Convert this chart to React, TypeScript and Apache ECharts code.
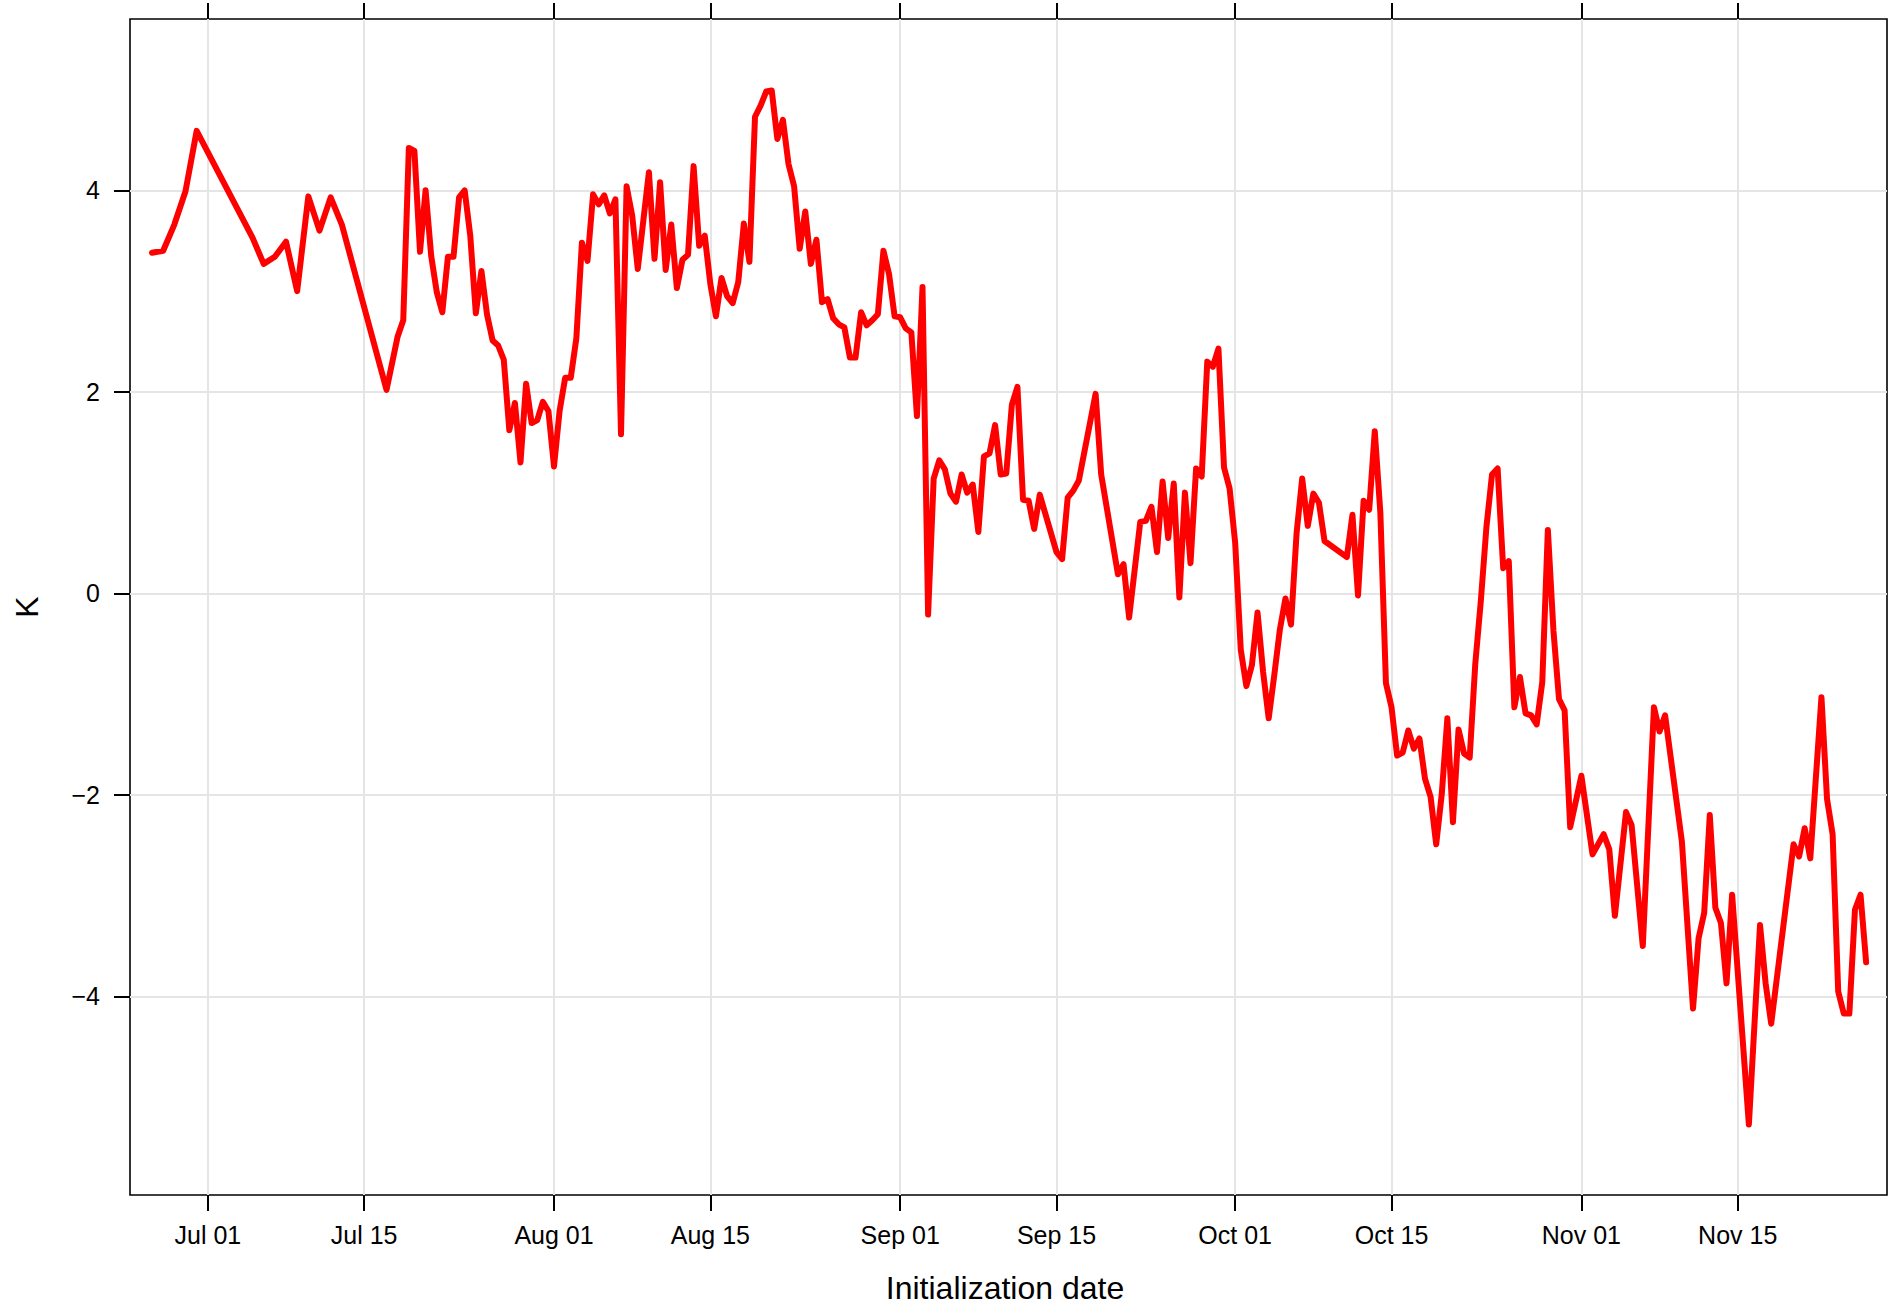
import React, { useEffect, useRef } from "react";
import * as echarts from "echarts";

// ---- data ----
const initDates: string[] = [
  "2015-06-26", "2015-06-27", "2015-06-28", "2015-06-29", "2015-06-30",
  "2015-07-05", "2015-07-06", "2015-07-07", "2015-07-08", "2015-07-09", "2015-07-10",
  "2015-07-11", "2015-07-12", "2015-07-13", "2015-07-17",
  "2015-07-18", "2015-07-18T12", "2015-07-19", "2015-07-19T12", "2015-07-20", "2015-07-20T12",
  "2015-07-21", "2015-07-21T12", "2015-07-22", "2015-07-22T12", "2015-07-23", "2015-07-23T12",
  "2015-07-24", "2015-07-24T12", "2015-07-25", "2015-07-25T12", "2015-07-26", "2015-07-26T12",
  "2015-07-27", "2015-07-27T12", "2015-07-28", "2015-07-28T12", "2015-07-29", "2015-07-29T12",
  "2015-07-30", "2015-07-30T12", "2015-07-31", "2015-07-31T12",
  "2015-08-01", "2015-08-01T12", "2015-08-02", "2015-08-02T12", "2015-08-03", "2015-08-03T12",
  "2015-08-04", "2015-08-04T12", "2015-08-05", "2015-08-05T12", "2015-08-06", "2015-08-06T12",
  "2015-08-07", "2015-08-07T12", "2015-08-08", "2015-08-08T12", "2015-08-09T12",
  "2015-08-10", "2015-08-10T12", "2015-08-11", "2015-08-11T12", "2015-08-12", "2015-08-12T12",
  "2015-08-13", "2015-08-13T12", "2015-08-14", "2015-08-14T12", "2015-08-15", "2015-08-15T12",
  "2015-08-16", "2015-08-16T12", "2015-08-17", "2015-08-17T12", "2015-08-18", "2015-08-18T12",
  "2015-08-19", "2015-08-19T12", "2015-08-20", "2015-08-20T12", "2015-08-21", "2015-08-21T12",
  "2015-08-22", "2015-08-22T12", "2015-08-23", "2015-08-23T12", "2015-08-24", "2015-08-24T12",
  "2015-08-25", "2015-08-25T12", "2015-08-26", "2015-08-26T12", "2015-08-27", "2015-08-27T12",
  "2015-08-28", "2015-08-28T12", "2015-08-29", "2015-08-29T12", "2015-08-30", "2015-08-30T12",
  "2015-08-31", "2015-08-31T12",
  "2015-09-01", "2015-09-01T12", "2015-09-02", "2015-09-02T12", "2015-09-03", "2015-09-03T12",
  "2015-09-04", "2015-09-04T12", "2015-09-05", "2015-09-05T12", "2015-09-06", "2015-09-06T12",
  "2015-09-07", "2015-09-07T12", "2015-09-08", "2015-09-08T12", "2015-09-09", "2015-09-09T12",
  "2015-09-10", "2015-09-10T12", "2015-09-11", "2015-09-11T12", "2015-09-12", "2015-09-12T12",
  "2015-09-13", "2015-09-13T12", "2015-09-15", "2015-09-15T12", "2015-09-16", "2015-09-16T12",
  "2015-09-17", "2015-09-18T12", "2015-09-19", "2015-09-20T12", "2015-09-21", "2015-09-21T12",
  "2015-09-22T12", "2015-09-23", "2015-09-23T12", "2015-09-24", "2015-09-24T12",
  "2015-09-25", "2015-09-25T12", "2015-09-26", "2015-09-26T12", "2015-09-27", "2015-09-27T12",
  "2015-09-28", "2015-09-28T12", "2015-09-29", "2015-09-29T12", "2015-09-30", "2015-09-30T12",
  "2015-10-01", "2015-10-01T12", "2015-10-02", "2015-10-02T12", "2015-10-03", "2015-10-03T12",
  "2015-10-04", "2015-10-04T12", "2015-10-05", "2015-10-05T12", "2015-10-06", "2015-10-06T12",
  "2015-10-07", "2015-10-07T12", "2015-10-08", "2015-10-08T12", "2015-10-09",
  "2015-10-11", "2015-10-11T12", "2015-10-12", "2015-10-12T12", "2015-10-13", "2015-10-13T12",
  "2015-10-14", "2015-10-14T12", "2015-10-15", "2015-10-15T12", "2015-10-16", "2015-10-16T12",
  "2015-10-17", "2015-10-17T12", "2015-10-18", "2015-10-18T12", "2015-10-19", "2015-10-19T12",
  "2015-10-20", "2015-10-20T12", "2015-10-21", "2015-10-21T12", "2015-10-22", "2015-10-22T12",
  "2015-10-23", "2015-10-23T12", "2015-10-24", "2015-10-24T12", "2015-10-25", "2015-10-25T12",
  "2015-10-26", "2015-10-26T12", "2015-10-27", "2015-10-27T12", "2015-10-28", "2015-10-28T12",
  "2015-10-29", "2015-10-29T12", "2015-10-30", "2015-10-30T12", "2015-10-31",
  "2015-11-01", "2015-11-02", "2015-11-03", "2015-11-03T12", "2015-11-04",
  "2015-11-05", "2015-11-05T12", "2015-11-06T12", "2015-11-07T12", "2015-11-08", "2015-11-08T12",
  "2015-11-10", "2015-11-11", "2015-11-11T12", "2015-11-12", "2015-11-12T12",
  "2015-11-13", "2015-11-13T12", "2015-11-14", "2015-11-14T12", "2015-11-16",
  "2015-11-17", "2015-11-17T12", "2015-11-18", "2015-11-20", "2015-11-20T12",
  "2015-11-21", "2015-11-21T12", "2015-11-22T12", "2015-11-23", "2015-11-23T12",
  "2015-11-24", "2015-11-24T12", "2015-11-25", "2015-11-25T12", "2015-11-26", "2015-11-26T12",
];

const kValues: number[] = [
  3.38, 3.40, 3.66, 3.99, 4.59,
  3.53, 3.27, 3.34, 3.49, 3.00, 3.94,
  3.60, 3.93, 3.66, 2.02,
  2.55, 2.71, 4.42, 4.39, 3.39, 4.00,
  3.35, 2.99, 2.79, 3.34, 3.34, 3.93,
  4.00, 3.55, 2.78, 3.20, 2.77, 2.51,
  2.46, 2.32, 1.62, 1.89, 1.30, 2.08,
  1.69, 1.72, 1.90, 1.81,
  1.26, 1.81, 2.14, 2.14, 2.53, 3.48,
  3.30, 3.96, 3.86, 3.95, 3.77, 3.91,
  1.58, 4.04, 3.75, 3.22, 4.18,
  3.32, 4.08, 3.21, 3.66, 3.03, 3.31,
  3.36, 4.24, 3.45, 3.55, 3.07, 2.75,
  3.13, 2.95, 2.88, 3.09, 3.67, 3.29,
  4.73, 4.84, 4.98, 4.99, 4.51, 4.70,
  4.26, 4.04, 3.42, 3.79, 3.27, 3.51,
  2.89, 2.92, 2.73, 2.67, 2.64, 2.34,
  2.34, 2.79, 2.66, 2.71, 2.77, 3.40,
  3.17, 2.75,
  2.74, 2.63, 2.59, 1.76, 3.04, -0.21,
  1.14, 1.32, 1.23, 0.99, 0.91, 1.18,
  1.00, 1.08, 0.61, 1.36, 1.39, 1.67,
  1.18, 1.19, 1.87, 2.05, 0.93, 0.92,
  0.64, 0.98, 0.41, 0.34, 0.95, 1.02,
  1.12, 1.98, 1.18, 0.19, 0.29, -0.24,
  0.71, 0.72, 0.86, 0.41, 1.11,
  0.55, 1.09, -0.04, 1.00, 0.30, 1.24,
  1.16, 2.30, 2.25, 2.43, 1.25, 1.04,
  0.50, -0.56, -0.92, -0.71, -0.19, -0.78,
  -1.24, -0.81, -0.36, -0.05, -0.31, 0.60,
  1.14, 0.67, 0.99, 0.90, 0.52,
  0.36, 0.78, -0.02, 0.92, 0.83, 1.61,
  0.80, -0.89, -1.13, -1.61, -1.58, -1.36,
  -1.54, -1.44, -1.84, -2.02, -2.49, -1.99,
  -1.24, -2.27, -1.35, -1.59, -1.63, -0.70,
  -0.07, 0.66, 1.18, 1.24, 0.25, 0.32,
  -1.13, -0.83, -1.19, -1.21, -1.30, -0.88,
  0.63, -0.37, -1.05, -1.16, -2.32,
  -1.81, -2.59, -2.39, -2.54, -3.20,
  -2.17, -2.30, -3.50, -1.13, -1.37, -1.21,
  -2.46, -4.12, -3.42, -3.17, -2.20,
  -3.12, -3.27, -3.87, -2.99, -5.27,
  -3.29, -3.87, -4.27, -2.49, -2.61,
  -2.33, -2.63, -1.03, -2.04, -2.39,
  -3.95, -4.17, -4.17, -3.14, -2.99, -3.66,
];

const xTickDates: string[] = [
  "2015-07-01", "2015-07-15", "2015-08-01", "2015-08-15", "2015-09-01",
  "2015-09-15", "2015-10-01", "2015-10-15", "2015-11-01", "2015-11-15",
];
const xTickLabels: string[] = [
  "Jul 01", "Jul 15", "Aug 01", "Aug 15", "Sep 01",
  "Sep 15", "Oct 01", "Oct 15", "Nov 01", "Nov 15",
];
const yTicks: number[] = [-4, -2, 0, 2, 4];

// ---- helpers ----
const DAY = 86400000;
function ts(s: string): number {
  const [date, time] = s.split("T");
  const [y, m, d] = date.split("-").map(Number);
  const h = time ? Number(time.split(":")[0]) : 0;
  return Date.UTC(y, m - 1, d, h);
}

const FONT = '"Liberation Sans", Arial, Helvetica, sans-serif';

export default function App() {
  const ref = useRef<HTMLDivElement>(null);

  useEffect(() => {
    if (!ref.current) return;
    const chart = echarts.init(ref.current, null, { renderer: "svg" });

    const seriesData = initDates.map((d, i) => [ts(d), kValues[i]]);
    const tickTs = xTickDates.map(ts);
    const labelMap: Record<string, string> = {};
    tickTs.forEach((t, i) => (labelMap[String(t)] = xTickLabels[i]));

    const origin = ts("2015-07-01");
    const xMin = origin - 6.97 * DAY;
    const xMax = origin + 150.37 * DAY;

    const tickStyle = { color: "#000", width: 2 };

    chart.setOption({
      animation: false,
      backgroundColor: "#ffffff",
      grid: {
        left: 130,
        top: 19,
        width: 1757,
        height: 1176,
        show: true,
        borderColor: "#000",
        borderWidth: 1.6,
        backgroundColor: "transparent",
        containLabel: false,
        outerBoundsMode: "none",
      },
      xAxis: [
        {
          type: "value",
          position: "bottom",
          min: xMin,
          max: xMax,
          axisLine: { show: false, onZero: false },
          axisTick: {
            show: true,
            inside: false,
            length: 16,
            lineStyle: tickStyle,
            customValues: tickTs,
          },
          axisLabel: {
            show: true,
            customValues: tickTs,
            formatter: (v: number) => labelMap[String(v)] ?? "",
            color: "#000",
            fontSize: 25,
            fontFamily: FONT,
            margin: 27,
          },
          splitLine: { show: true, lineStyle: { color: "#e5e5e5", width: 2 } },
        },
        {
          type: "value",
          position: "top",
          min: xMin,
          max: xMax,
          axisLine: { show: false, onZero: false },
          axisTick: {
            show: true,
            inside: false,
            length: 16,
            lineStyle: tickStyle,
            customValues: tickTs,
          },
          axisLabel: { show: false, customValues: tickTs },
          splitLine: { show: false },
        },
      ],
      yAxis: {
        type: "value",
        min: -5.97,
        max: 5.7,
        axisLine: { show: false, onZero: false },
        axisTick: {
          show: true,
          inside: false,
          length: 16,
          lineStyle: tickStyle,
          customValues: yTicks,
        },
        axisLabel: {
          show: true,
          customValues: yTicks,
          formatter: (v: number) => (v < 0 ? "\u2212" + Math.abs(v) : String(v)),
          color: "#000",
          fontSize: 25,
          fontFamily: FONT,
          margin: 30,
        },
        splitLine: { show: true, lineStyle: { color: "#e5e5e5", width: 2 } },
      },
      series: [
        {
          type: "line",
          xAxisIndex: 0,
          yAxisIndex: 0,
          data: seriesData,
          showSymbol: false,
          symbol: "none",
          silent: true,
          lineStyle: { color: "#ff0000", width: 6, cap: "round", join: "round" },
          itemStyle: { color: "#ff0000" },
        },
      ],
      graphic: [
        {
          type: "text",
          x: 1005,
          y: 1288,
          style: {
            text: "Initialization date",
            fill: "#000",
            font: `32px ${FONT}`,
            align: "center",
            verticalAlign: "middle",
            textAlign: "center",
            textVerticalAlign: "middle",
          },
        },
        {
          type: "text",
          x: 27,
          y: 607,
          rotation: Math.PI / 2,
          style: {
            text: "K",
            fill: "#000",
            font: `32px ${FONT}`,
            align: "center",
            verticalAlign: "middle",
            textAlign: "center",
            textVerticalAlign: "middle",
          },
        },
      ],
    });

    return () => chart.dispose();
  }, []);

  return (
    <div
      ref={ref}
      style={{
        position: "absolute",
        left: 0,
        top: 0,
        width: 1890,
        height: 1305,
        background: "#ffffff",
      }}
    />
  );
}
